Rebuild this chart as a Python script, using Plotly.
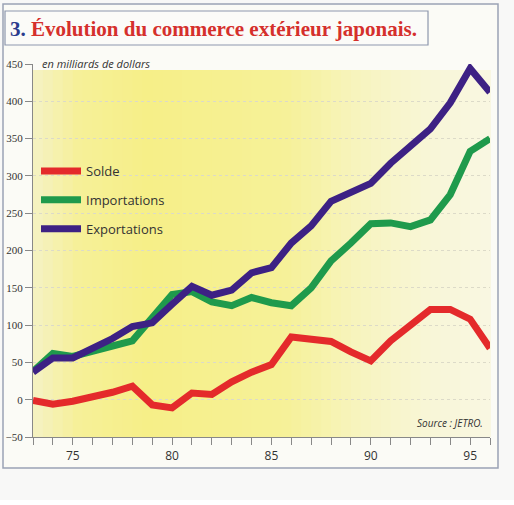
import plotly.graph_objects as go

# Commerce extérieur japonais, en milliards de dollars
years = list(range(1973, 1997))
exportations = [37, 56, 56, 69, 82, 98, 103, 128, 152, 140, 147, 170, 177,
                210, 233, 266, 278, 290, 317, 341, 363, 398, 444, 412]
importations = [38, 62, 58, 64, 72, 79, 110, 141, 145, 131, 126, 137, 130,
                126, 150, 186, 210, 236, 237, 232, 241, 275, 333, 350]
solde = [-1, -6, -2, 3, 10, 18, -7, -11, 9, 7, 24, 37, 47,
         84, 81, 78, 64, 52, 79, 100, 121, 121, 108, 69]

y_ticks = [-50, 0, 50, 100, 150, 200, 250, 300, 350, 400, 450]
x_ticks = years
x_labels = [str(y % 100) if y % 5 == 0 else "" for y in years]

W, H = 514, 500
L, R, T, B = 33, W - 490, 64, H - 437


def px_x(p):
    return (p - L) / (W - L - R)


def px_y(p):
    return (H - B - p) / (H - T - B)


def mix(c1, c2, t):
    return "rgb(%d,%d,%d)" % tuple(round(a + (b - a) * t) for a, b in zip(c1, c2))


fig = go.Figure()

# order in legend: Solde, Importations, Exportations
fig.add_trace(go.Scatter(x=years, y=importations, name="Importations", mode="lines",
                         line=dict(color="#1f9a4c", width=7), legendrank=2,
                         legendgroup="b"))
fig.add_trace(go.Scatter(x=years, y=exportations, name="Exportations", mode="lines",
                         line=dict(color="#3d2184", width=7), legendrank=3,
                         legendgroup="c"))
fig.add_trace(go.Scatter(x=years, y=solde, name="Solde", mode="lines",
                         line=dict(color="#e42a2b", width=7), legendrank=1,
                         legendgroup="a"))

# yellow gradient background of the plot area
stops = [(0.0, (245, 242, 196)), (0.1, (246, 240, 152)), (0.25, (246, 239, 136)),
         (0.55, (246, 241, 152)), (0.72, (247, 244, 192)), (0.86, (248, 246, 214)),
         (1.0, (249, 247, 226))]
shapes = []
n = 46
for i in range(n):
    t = (i + 0.5) / n
    for (a, ca), (b, cb) in zip(stops, stops[1:]):
        if a <= t <= b:
            col = mix(ca, cb, (t - a) / (b - a))
            break
    shapes.append(dict(type="rect", xref="paper", yref="paper", layer="below",
                       x0=i / n, x1=(i + 1) / n + 0.002, y0=0, y1=px_y(70),
                       fillcolor=col, line=dict(width=0)))

# outer frame and title box
frame = dict(type="rect", xref="paper", yref="paper", layer="below",
             x0=px_x(3), x1=px_x(498), y0=px_y(468), y1=px_y(4),
             fillcolor="#fbfbf6", line=dict(color="#9aa3b5", width=1.5))
shapes = [frame] + shapes
shapes.append(dict(type="rect", xref="paper", yref="paper",
                   x0=px_x(5), x1=px_x(428), y0=px_y(45), y1=px_y(11),
                   fillcolor="#fbfbf8", line=dict(color="#8d97ad", width=1.2)))

annotations = [
    dict(text="<b><span style='color:#2b3b8c'>3.</span> Évolution du commerce extérieur japonais.</b>",
         xref="paper", yref="paper", x=px_x(8), y=px_y(29), xanchor="left",
         yanchor="middle", showarrow=False,
         font=dict(family="Liberation Serif", size=21, color="#d5302c")),
    dict(text="<i>en milliards de dollars</i>", xref="paper", yref="paper",
         x=px_x(40), y=px_y(63), xanchor="left", yanchor="middle", showarrow=False,
         font=dict(family="Open Sans", size=11, color="#333333")),
    dict(text="<i>Source : JETRO.</i>", xref="paper", yref="paper",
         x=px_x(485), y=px_y(423), xanchor="right", yanchor="middle", showarrow=False,
         font=dict(family="Open Sans", size=10, color="#333333")),
]

fig.update_layout(
    width=W, height=H,
    margin=dict(l=L, r=R, t=T, b=B, autoexpand=False),
    paper_bgcolor="#f8f8f7",
    plot_bgcolor="rgba(0,0,0,0)",
    font=dict(family="Liberation Sans Narrow, Open Sans", color="#333333"),
    shapes=shapes,
    annotations=annotations,
    showlegend=True,
    legend=dict(x=px_x(36), y=px_y(156), xanchor="left", yanchor="top",
                bgcolor="rgba(0,0,0,0)", traceorder="grouped", tracegroupgap=9,
                font=dict(family="Open Sans", size=13, color="#333333"),
                itemwidth=40),
)
fig.update_xaxes(range=[73 + 1900, 96 + 1900], tickvals=x_ticks, ticktext=x_labels,
                 ticks="outside", ticklen=7, tickcolor="#888888", automargin=False,
                 showline=True, linecolor="#888888", linewidth=1.2,
                 showgrid=False, zeroline=False,
                 tickfont=dict(family="Open Sans", size=12, color="#333333"))
fig.update_yaxes(range=[-50, 450], tickvals=y_ticks, ticks="outside", ticklen=7,
                 tickcolor="#888888", showline=True, linecolor="#888888",
                 automargin=False,
                 linewidth=1.2, showgrid=True, gridcolor="#dcdac8", griddash="dot",
                 zeroline=False,
                 tickfont=dict(family="Liberation Sans Narrow", size=11, color="#333333"))

# drop the default page margin so the figure sits at the window's corner
fig.write_html("out.html", config={"displayModeBar": False},
               post_script="document.body.style.margin='0';"
                           "document.body.style.overflow='hidden';")
